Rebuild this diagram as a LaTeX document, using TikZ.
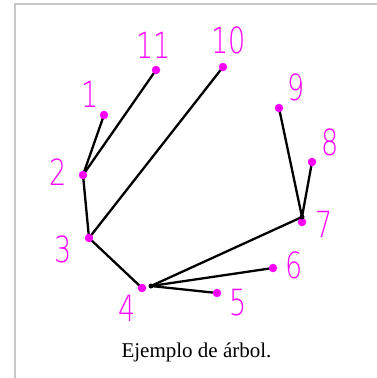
\documentclass[tikz,border=0pt]{standalone}
\usepackage{fontspec}
\setmainfont{Liberation Serif}
\newfontfamily\digf{DejaVu Sans ExtraLight}
\definecolor{mag}{HTML}{FF00FF}
\definecolor{frame}{HTML}{C8C8C8}
\pgfdeclarelayer{edgelayer}
\pgfsetlayers{edgelayer,main}
\begin{document}
\begin{tikzpicture}[x=1pt,y=-1pt,
  dot/.style={circle,fill=mag,inner sep=0pt,minimum size=8.5pt},
  jdot/.style={circle,fill=black,inner sep=0pt,minimum size=5pt},
  lbl/.style={text=mag,font=\digf\fontsize{36}{36}\selectfont,inner sep=0pt,anchor=base,xscale=0.75},
  edge/.style={draw=black,line width=2.3pt}]
\useasboundingbox (0,0) rectangle (377,378);
\draw[frame,line width=1.2pt] (15,378) -- (15,4) -- (377,4);
% vertices
\node[dot] (n1) at (104,115) {};
\node[dot] (n11) at (156,70) {};
\node[dot] (n10) at (223,67) {};
\node[dot] (n9) at (279,108) {};
\node[dot] (n8) at (312,162) {};
\node[dot] (n2) at (83,175) {};
\node[dot] (n7) at (302,222) {};
\node[dot] (n3) at (89,238) {};
\node[dot] (n6) at (273,268) {};
\node[dot] (n4) at (142,288) {};
\node[dot] (n5) at (217,293) {};
\coordinate (j4) at (151,286);
\coordinate (j7) at (302,217);
% edges
\begin{pgfonlayer}{edgelayer}
\draw[edge] (n2.center) -- (n1.center);
\draw[edge] (n2.center) -- (n11.center);
\draw[edge] (n2.center) -- (n3.center);
\draw[edge] (n3.center) -- (n10.center);
\draw[edge] (n3.center) -- (n4.center);
\draw[edge] (j4) -- (j7);
\draw[edge] (j4) -- (n6.center);
\draw[edge] (j4) -- (n5.center);
\draw[edge] (j7) -- (n9.center);
\draw[edge] (j7) -- (n8.center);
\end{pgfonlayer}
\node[jdot] at (j4) {};
\node[jdot] at (j7) {};
% labels
\node[lbl] (l1) at (90,107) {1};
\node[lbl] (l11) at (154,58) {11};
\node[lbl] (l10) at (229,53) {10};
\node[lbl] (l9) at (296,100) {9};
\node[lbl] (l8) at (330,155) {8};
\node[lbl] (l7) at (324,237) {7};
\node[lbl] (l6) at (294,278) {6};
\node[lbl] (l5) at (238,315) {5};
\node[lbl] (l4) at (127,321) {4};
\node[lbl] (l3) at (63,262) {3};
\node[lbl] (l2) at (58,185) {2};
% caption
\node[font=\fontsize{21}{21}\selectfont,inner sep=0pt,anchor=base] (cap) at (196.5,357) {Ejemplo de árbol.};
\end{tikzpicture}
\end{document}
